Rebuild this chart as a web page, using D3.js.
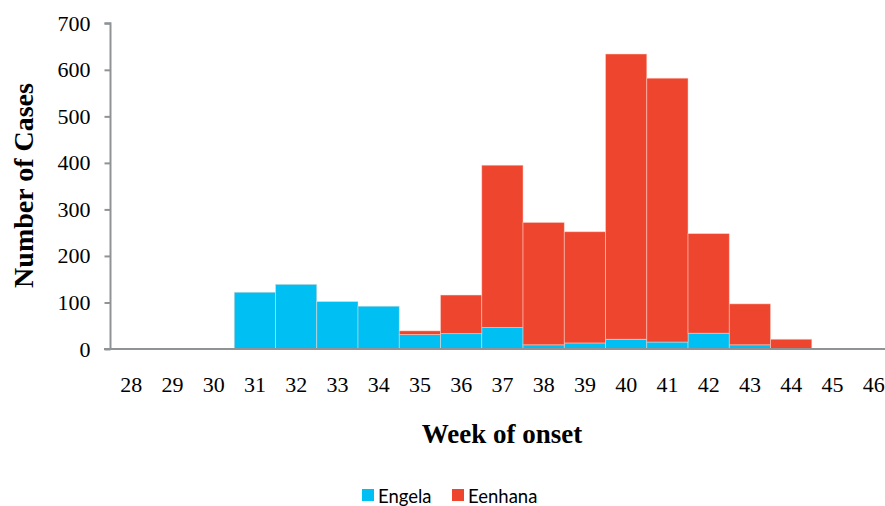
<!DOCTYPE html>
<html>
<head>
<meta charset="utf-8">
<script src="https://cdn.jsdelivr.net/npm/d3@7"></script>
<style>
  html, body { margin: 0; padding: 0; background: #fff; }
  svg { display: block; }
</style>
</head>
<body>
<svg id="chart" width="885" height="506"></svg>
<script>
const weeks = ["28","29","30","31","32","33","34","35","36","37","38","39","40","41","42","43","44","45","46"];
const engela  = [0, 0, 1, 122, 139, 102, 92, 31, 33, 46, 9, 13, 21, 15, 34, 9, 0, 0, 0];
const eenhana = [0, 0, 0, 0, 0, 0, 0, 8, 83, 349, 263, 239, 613, 567, 214, 88, 21, 0, 0];
const yTicks = [0, 100, 200, 300, 400, 500, 600, 700];
const seriesNames = ["Engela", "Eenhana"];
const colors = ["#00BFF3", "#EE452E"];

const svg = d3.select("#chart");
const x = d3.scaleBand().domain(weeks).range([110.5, 894.3]).padding(0);
const y = d3.scaleLinear().domain([0, 700]).range([349, 23.3]);

const table = weeks.map((w, i) => ({ week: w, Engela: engela[i], Eenhana: eenhana[i] }));
const stack = d3.stack().keys(seriesNames)(table);

const g = svg.append("g");
g.selectAll("g.series").data(stack).join("g")
  .attr("class", "series")
  .attr("fill", (d, i) => colors[i])
  .selectAll("rect").data(d => d).join("rect")
  .attr("x", d => x(d.data.week))
  .attr("width", x.bandwidth())
  .attr("y", d => y(d[1]))
  .attr("height", d => Math.max(0, y(d[0]) - y(d[1])))
  .attr("stroke", "#ffd9cf")
  .attr("stroke-opacity", 0.6)
  .attr("stroke-width", d => (d[1] - d[0]) > 0 ? 0.8 : 0);

// Y axis
const yAxis = d3.axisLeft(y).tickValues(yTicks).tickSize(6).tickPadding(14).tickFormat(d3.format("d"));
const yg = svg.append("g").attr("transform", "translate(110.5,0)").call(yAxis);
yg.select(".domain").attr("stroke", "#8f9396").attr("stroke-width", 2);
yg.selectAll(".tick line").attr("stroke", "#8f9396").attr("stroke-width", 2);
yg.selectAll(".tick text").attr("font-family", "'Liberation Serif', 'Times New Roman', serif")
  .attr("font-size", 22).attr("fill", "#000");
yg.select(".domain").attr("d", "M-6,23.3H0V349");

// X axis
const xAxis = d3.axisBottom(x).tickSize(0).tickPadding(27);
const xg = svg.append("g").attr("transform", "translate(0,349)").call(xAxis);
xg.select(".domain").attr("stroke", "#8f9396").attr("stroke-width", 2).attr("d", "M104,0H885");
xg.selectAll(".tick text").attr("font-family", "'Liberation Serif', 'Times New Roman', serif")
  .attr("font-size", 22).attr("fill", "#000");

// Axis titles
svg.append("text")
  .attr("transform", "translate(33,185.5) rotate(-90)")
  .attr("text-anchor", "middle")
  .attr("font-family", "'Liberation Serif', 'Times New Roman', serif")
  .attr("font-weight", "bold").attr("font-size", 28)
  .text("Number of Cases");

svg.append("text")
  .attr("x", 502).attr("y", 443)
  .attr("text-anchor", "middle")
  .attr("font-family", "'Liberation Serif', 'Times New Roman', serif")
  .attr("font-weight", "bold").attr("font-size", 27)
  .text("Week of onset");

// Legend
const legendX = [362, 452];
const lg = svg.append("g").selectAll("g").data(seriesNames).join("g")
  .attr("transform", (d, i) => `translate(${legendX[i]},489)`);
lg.append("rect").attr("width", 12).attr("height", 12).attr("fill", (d, i) => colors[i]);
lg.append("text").attr("x", 16).attr("y", 14)
  .attr("font-family", "Lato, 'Open Sans', sans-serif").attr("font-size", 18.5).attr("fill", "#000")
  .text(d => d);
</script>
</body>
</html>
